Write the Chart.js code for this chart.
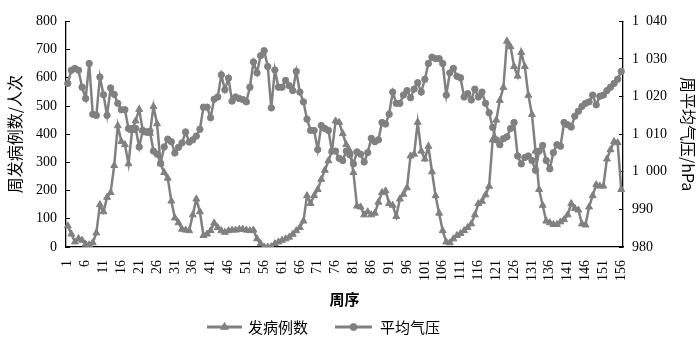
<!DOCTYPE html>
<html><head><meta charset="utf-8">
<script src="https://cdn.jsdelivr.net/npm/chart.js@4.4.0/dist/chart.umd.min.js"></script>
<style>html,body{margin:0;padding:0;background:#fff;}#wrap{width:700px;height:343px;position:relative;}</style>
</head><body><div id="wrap"><canvas id="c" width="700" height="343"></canvas></div>
<script>
const weeks = [1,2,3,4,5,6,7,8,9,10,11,12,13,14,15,16,17,18,19,20,21,22,23,24,25,26,27,28,29,30,31,32,33,34,35,36,37,38,39,40,41,42,43,44,45,46,47,48,49,50,51,52,53,54,55,56,57,58,59,60,61,62,63,64,65,66,67,68,69,70,71,72,73,74,75,76,77,78,79,80,81,82,83,84,85,86,87,88,89,90,91,92,93,94,95,96,97,98,99,100,101,102,103,104,105,106,107,108,109,110,111,112,113,114,115,116,117,118,119,120,121,122,123,124,125,126,127,128,129,130,131,132,133,134,135,136,137,138,139,140,141,142,143,144,145,146,147,148,149,150,151,152,153,154,155,156];
const cases = [75,46,18,30,24,10,8,15,50,150,
125,176,193,289,430,374,363,295,413,447,
488,413,405,403,498,437,295,264,244,163,
103,86,63,60,58,114,170,125,41,46,
58,85,69,58,52,58,60,60,63,63,
60,58,60,29,12,0,0,1,12,18,
24,29,35,45,58,69,92,182,154,182,
204,240,272,306,340,447,442,402,363,340,
264,145,142,114,125,114,120,159,193,199,
154,148,108,170,187,210,323,329,442,340,
312,357,267,182,120,58,18,15,29,41,
48,58,69,82,114,154,162,185,215,380,
450,520,566,730,710,640,606,690,640,538,
470,340,204,148,92,86,80,80,89,97,
114,154,137,131,82,78,142,182,221,216,
216,312,345,374,370,204];
const pressure = [1023.5,1027,1027.5,1027,1022.5,1019.5,1028.8,1015.3,1015,1025.2,
1020.5,1015,1022.3,1020.6,1018.2,1016.5,1016.5,1011.5,1011.5,1011.5,
1006.6,1011,1010.6,1010.8,1005.5,1004.7,1002.3,1006.6,1008.7,1008,
1005,1006.5,1007.7,1010.6,1007.9,1008.5,1009.5,1011.3,1017.2,1017.2,
1014.4,1019.3,1019.9,1025.8,1021.8,1024.9,1018.8,1019.9,1019.5,1019.2,
1018.6,1022.5,1029.2,1026.3,1030.9,1032.2,1028,1017,1027.1,1022.5,
1022.5,1024.3,1022.9,1021.6,1026.7,1021.2,1018.6,1014,1011,1011,
1005.9,1012.3,1011.5,1011,1005.5,1005.5,1003.6,1003,1005.5,1004.5,
1002.1,1005.3,1004.7,1002.6,1005.1,1008.9,1008,1008.5,1013.1,1012.7,
1015.3,1021.2,1018.2,1018.2,1020.4,1021.6,1019.7,1022,1023.7,1021.2,
1024.6,1028.8,1030.5,1030.1,1030.1,1028.8,1020.4,1026.3,1027.5,1025.4,
1025,1019.9,1020.8,1019.1,1022,1019.9,1021.2,1018.2,1015.7,1011.8,
1008.5,1007.2,1008.8,1009.3,1011.5,1013.1,1004.2,1002.1,1003.8,1004.2,
1003,1000.4,1005.5,1007,1003,1000.8,1005.1,1007.2,1006.8,1013.1,
1012.5,1011.9,1014.8,1016.1,1017.4,1018.2,1018.6,1020.4,1017.8,1020.1,
1020.4,1021.6,1022.5,1023.5,1024.6,1026.7];
const xTickLabels = ['1','6','11','16','21','26','31','36','41','46','51','56','61','66','71','76','81','86','91','96','101','106','111','116','121','126','131','136','141','146','151','156'];
const leftTickValues = [0,100,200,300,400,500,600,700,800];
const rightTickValues = [980,990,1000,1010,1020,1030,1040];
const rightTickLabels = ['980','990','1\u2002000','1\u2002010','1\u2002020','1\u2002030','1\u2002040'];
const seriesNames = ['发病例数','平均气压'];

const GRAY = '#808080';
const NUM_FONT = 'Liberation Serif, Times New Roman, serif';
const CJK_FONT = '"Noto Sans CJK SC", sans-serif';

const legendPlugin = {
  id: 'customLegend',
  afterDraw(chart) {
    const ctx = chart.ctx;
    const y = 327;
    const items = [
      {x0: 207, x1: 242, style: 'triangle', tx: 248, text: seriesNames[0]},
      {x0: 335, x1: 372, style: 'circle', tx: 380, text: seriesNames[1]}
    ];
    ctx.save();
    items.forEach(it => {
      ctx.strokeStyle = GRAY; ctx.fillStyle = GRAY; ctx.lineWidth = 3;
      ctx.beginPath(); ctx.moveTo(it.x0, y); ctx.lineTo(it.x1, y); ctx.stroke();
      const cx = (it.x0 + it.x1) / 2;
      ctx.lineWidth = 1;
      Chart.helpers.drawPoint(ctx, {pointStyle: it.style, radius: it.style === 'triangle' ? 4.5 : 3.5, borderWidth: 1}, cx, y);
      ctx.fillStyle = '#000';
      ctx.font = '15px ' + CJK_FONT;
      ctx.textAlign = 'left'; ctx.textBaseline = 'middle';
      ctx.fillText(it.text, it.tx, y);
    });
    ctx.restore();
  }
};

new Chart(document.getElementById('c'), {
  type: 'line',
  data: {
    labels: weeks,
    datasets: [
      {label: seriesNames[0], data: cases, yAxisID: 'y', borderColor: GRAY, backgroundColor: GRAY,
       pointBorderColor: GRAY, pointBackgroundColor: GRAY,
       pointStyle: 'triangle', pointRadius: 4, pointBorderWidth: 1, borderWidth: 2.5, tension: 0},
      {label: seriesNames[1], data: pressure, yAxisID: 'y1', borderColor: GRAY, backgroundColor: GRAY,
       pointBorderColor: GRAY, pointBackgroundColor: GRAY,
       pointStyle: 'circle', pointRadius: 3.2, pointBorderWidth: 1, borderWidth: 2.5, tension: 0}
    ]
  },
  options: {
    responsive: false, animation: false, devicePixelRatio: 1,
    layout: {padding: {top: 11, bottom: 35, left: 0, right: 0}},
    plugins: {legend: {display: false}, tooltip: {enabled: false}},
    scales: {
      x: {
        type: 'category', offset: true,
        grid: {display: false},
        border: {display: true, color: '#000', width: 1.3},
        ticks: {autoSkip: false, maxRotation: 90, minRotation: 90, padding: 5, color: '#000',
          font: {family: NUM_FONT, size: 14},
          callback: function(v, i) { const l = String(weeks[i]); return xTickLabels.includes(l) ? l : ''; }},
        title: {display: true, text: '周序', color: '#000', font: {family: CJK_FONT, size: 15, weight: 'bold'}, padding: {top: 0, bottom: 0}},
        afterFit: s => { s.height = 61; }
      },
      y: {
        position: 'left', min: 0, max: 800,
        afterBuildTicks: s => { s.ticks = leftTickValues.map(v => ({value: v})); },
        grid: {display: true, drawOnChartArea: false, drawTicks: true, tickLength: -4, color: '#000', lineWidth: 1},
        border: {display: true, color: '#000', width: 1.3},
        ticks: {padding: 13, color: '#000', font: {family: NUM_FONT, size: 14}},
        title: {display: true, text: '周发病例数/人次', color: '#000', font: {family: CJK_FONT, size: 16}, padding: {top: 5, bottom: 0}},
        afterFit: s => { s.width = 66; }
      },
      y1: {
        position: 'right', min: 980, max: 1040,
        afterBuildTicks: s => { s.ticks = rightTickValues.map(v => ({value: v})); },
        grid: {display: true, drawOnChartArea: false, drawTicks: true, tickLength: -4, color: '#000', lineWidth: 1},
        border: {display: true, color: '#000', width: 1.3},
        ticks: {padding: 13, color: '#000', font: {family: NUM_FONT, size: 14},
          callback: function(v) { const k = rightTickValues.indexOf(v); return k >= 0 ? rightTickLabels[k] : v; }},
        title: {display: true, text: '周平均气压/hPa', color: '#000', font: {family: CJK_FONT, size: 16}, padding: {top: 2, bottom: 0}},
        afterFit: s => { s.width = 77; }
      }
    }
  },
  plugins: [legendPlugin]
});
</script></body></html>
